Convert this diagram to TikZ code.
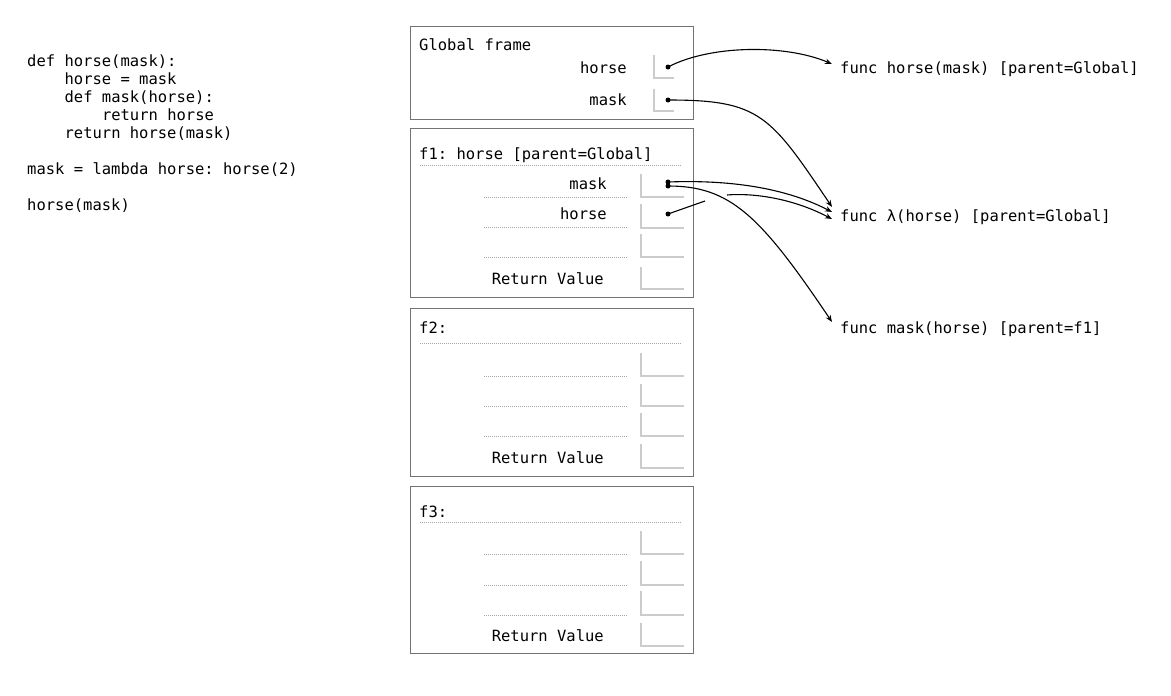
\documentclass[tikz,border=0pt]{standalone}
\usepackage{fontspec}
\setmainfont{DejaVu Sans Mono}
\usetikzlibrary{arrows.meta}
\frenchspacing
\begin{document}
\begin{tikzpicture}[x=1pt,y=-1pt,
  txt/.style={font=\fontsize{15.5}{18}\selectfont\frenchspacing, inner sep=0pt, text=black},
  frm/.style={draw=black!55, line width=1pt},
  vbox/.style={draw=black!20, line width=1.2pt},
  dline/.style={draw=black!35, line width=0.6pt, dash pattern=on 1pt off 1pt},
  ptr/.style={-{Stealth[length=7pt,width=5.5pt]}, line width=1.1pt, draw=black},
  ptrline/.style={line width=1.1pt, draw=black},
  dotn/.style={circle, fill=black, inner sep=0pt, minimum size=5pt}]
\useasboundingbox (0,0) rectangle (1171,696);

% code
\node[txt, anchor=base west] (c1) at (27,66) {def horse(mask):};
\node[txt, anchor=base west] (c2) at (64.4,84) {horse = mask};
\node[txt, anchor=base west] (c3) at (64.4,102) {def mask(horse):};
\node[txt, anchor=base west] (c4) at (101.8,120) {return horse};
\node[txt, anchor=base west] (c5) at (64.4,138) {return horse(mask)};
\node[txt, anchor=base west] (c6) at (27,174) {mask = lambda horse: horse(2)};
\node[txt, anchor=base west] (c7) at (27,210) {horse(mask)};

% Global frame
\draw[frm] (410,26) rectangle (693,119);
\node[txt, anchor=base west] (gt) at (419,50) {Global frame};
\node[txt, anchor=base east] (ghl) at (627,73) {horse};
\node[txt, anchor=base east] (gml) at (627,105) {mask};
\draw[vbox] (654,55) |- (674,78);
\draw[vbox] (654,89) |- (674,111);

% f1
\draw[frm] (410,128) rectangle (693,297);
\node[txt, anchor=base west] (f1t) at (419,159) {f1: horse [parent=Global]};
\draw[dline] (420,165) -- (682,165);
\node[txt, anchor=base east] (f1ml) at (607,189) {mask};
\node[txt, anchor=base east] (f1hl) at (607,219) {horse};
\node[txt, anchor=base east] (f1rl) at (604,284) {Return Value};
\draw[dline] (484,197) -- (628,197);
\draw[dline] (484,227) -- (628,227);
\draw[dline] (484,257) -- (628,257);
\draw[vbox] (641,174) |- (684,197);
\draw[vbox] (641,204) |- (684,228);
\draw[vbox] (641,234) |- (684,257);
\draw[vbox] (641,267) |- (684,289);

% f2
\draw[frm] (410,308) rectangle (693,476);
\node[txt, anchor=base west] (f2t) at (419,333) {f2:};
\draw[dline] (420,343) -- (682,343);
\node[txt, anchor=base east] (f2rl) at (604,463) {Return Value};
\draw[dline] (484,376) -- (628,376);
\draw[dline] (484,406) -- (628,406);
\draw[dline] (484,436) -- (628,436);
\draw[vbox] (641,353) |- (684,376);
\draw[vbox] (641,384) |- (684,406);
\draw[vbox] (641,413) |- (684,436);
\draw[vbox] (641,444) |- (684,468);

% f3
\draw[frm] (410,486) rectangle (693,653);
\node[txt, anchor=base west] (f3t) at (419,517) {f3:};
\draw[dline] (420,522) -- (682,522);
\node[txt, anchor=base east] (f3rl) at (604,641) {Return Value};
\draw[dline] (484,554) -- (628,554);
\draw[dline] (484,585) -- (628,585);
\draw[dline] (484,615) -- (628,615);
\draw[vbox] (641,531) |- (684,554);
\draw[vbox] (641,561) |- (684,585);
\draw[vbox] (641,591) |- (684,615);
\draw[vbox] (641,623) |- (684,646);

% function objects
\node[txt, anchor=base west] (fh) at (840,73) {func horse(mask) [parent=Global]};
\node[txt, anchor=base west] (fl) at (840,221) {func λ(horse) [parent=Global]};
\node[txt, anchor=base west] (fm) at (840,333) {func mask(horse) [parent=f1]};

\coordinate (fhin) at (832,64);
\coordinate (lam1) at (832,207);
\coordinate (lam2) at (832,212);
\coordinate (lam3) at (832,219);
\coordinate (fmin) at (832,322);
\coordinate (brk1) at (705,201);
\coordinate (brk2) at (727,195);

% pointer dots
\node[dotn] (gh) at (668,67) {};
\node[dotn] (gm) at (668,100) {};
\node[dotn] (f1ma) at (668,182) {};
\node[dotn] (f1mb) at (668,186) {};
\node[dotn] (f1h) at (668,214) {};

% pointers
\draw[ptr] (gh.center) .. controls (710,45) and (785,44) .. (fhin);
\draw[ptr] (gm.center) .. controls (760,100) and (770,115) .. (lam1);
\draw[ptr] (f1ma.center) .. controls (720,180) and (780,185) .. (lam2);
\draw[ptrline] (f1h.center) -- (brk1);
\draw[ptr] (brk2) .. controls (750,193) and (790,197) .. (lam3);
\draw[ptr] (f1mb.center) .. controls (730,186) and (760,215) .. (fmin);
\end{tikzpicture}
\end{document}
